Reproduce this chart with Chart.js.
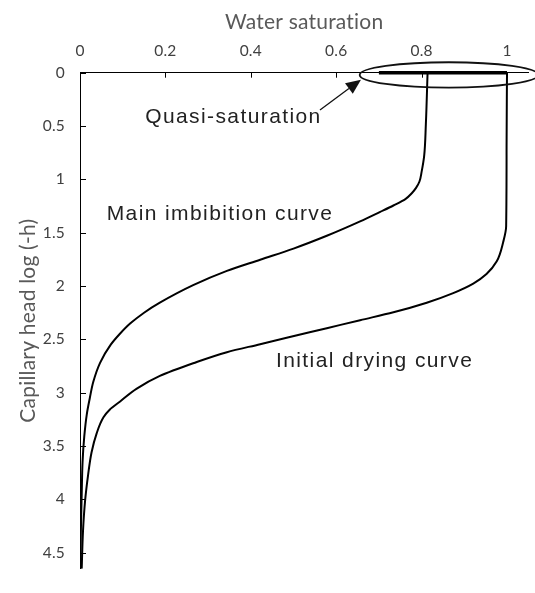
<!DOCTYPE html>
<html><head><meta charset="utf-8">
<script src="https://cdn.jsdelivr.net/npm/chart.js@4/dist/chart.umd.min.js"></script>
<style>html,body{margin:0;padding:0;background:#fff;overflow:hidden}</style>
</head><body>
<canvas id="c" width="535" height="593"></canvas>
<script>
// ---- data ----
const xTickValues = [0, 0.2, 0.4, 0.6, 0.8, 1];
const yTickValues = [0, 0.5, 1, 1.5, 2, 2.5, 3, 3.5, 4, 4.5];

const imbibitionHead = [0, 0.48, 0.78, 0.93, 1.02, 1.08, 1.13, 1.185, 1.245, 1.305, 1.394, 1.529, 1.649, 1.753, 1.858, 1.992, 2.156, 2.25, 2.35, 2.45, 2.55, 2.72, 2.90, 3.05, 3.20, 3.41, 3.65, 3.95, 4.3, 4.65];
const imbibitionSat  = [0.814, 0.810, 0.806, 0.800, 0.795, 0.787, 0.777, 0.762, 0.734, 0.703, 0.656, 0.578, 0.500, 0.422, 0.344, 0.265, 0.187, 0.150, 0.118, 0.093, 0.072, 0.047, 0.031, 0.023, 0.016, 0.010, 0.006, 0.004, 0.002, 0.001];

const dryingHead = [0, 0.7, 1.44, 1.589, 1.768, 1.887, 1.977, 2.066, 2.156, 2.246, 2.32, 2.395, 2.485, 2.545, 2.62, 2.724, 2.843, 2.962, 3.082, 3.157, 3.231, 3.381, 3.56, 3.77, 4.01, 4.3, 4.65];
const dryingSat  = [1.0, 0.999, 0.998, 0.991, 0.976, 0.952, 0.921, 0.874, 0.812, 0.734, 0.656, 0.578, 0.484, 0.422, 0.344, 0.265, 0.187, 0.133, 0.094, 0.070, 0.055, 0.039, 0.027, 0.019, 0.012, 0.007, 0.004];

const quasiSat  = [0.7, 1.0];
const quasiHead = [0, 0];

const labelTexts = ['Quasi-saturation', 'Main imbibition curve', 'Initial drying curve'];
const xTitle = 'Water saturation';
const yTitle = 'Capillary head log (-h)';

const toPts = (xs, ys) => xs.map((x, i) => ({x: x, y: ys[i]}));

const noLigatures = {
  id: 'noLigatures',
  beforeDraw(chart) { chart.ctx.letterSpacing = '0.2px'; }
};

const decor = {
  id: 'decor',
  afterDraw(chart) {
    const ctx = chart.ctx, xs = chart.scales.x, ys = chart.scales.y;
    const X = v => xs.getPixelForValue(v), Y = v => ys.getPixelForValue(v);
    ctx.save();
    // inside tick marks
    ctx.strokeStyle = '#000'; ctx.lineWidth = 1;
    xs.ticks.forEach(t => {
      const px = Math.round(X(t.value)) + 0.5;
      ctx.beginPath(); ctx.moveTo(px, xs.bottom); ctx.lineTo(px, xs.bottom + 5); ctx.stroke();
    });
    ys.ticks.forEach(t => {
      const py = Math.round(Y(t.value)) + 0.5;
      ctx.beginPath(); ctx.moveTo(ys.right, py); ctx.lineTo(ys.right + 6, py); ctx.stroke();
    });
    // ellipse around quasi-saturation
    const cx = X(0.864), cy = Y(0.021);
    const rx = X(0.864 + 0.209) - cx, ry = Y(0.021 + 0.119) - cy;
    ctx.strokeStyle = '#111'; ctx.lineWidth = 1.8;
    ctx.beginPath(); ctx.ellipse(cx, cy, rx, ry, 0, 0, Math.PI * 2); ctx.stroke();
    // arrow
    const tx = X(0.562), ty = Y(0.349), hx = X(0.658), hy = Y(0.065);
    const ang = Math.atan2(hy - ty, hx - tx);
    const hl = 15, hw = 6.5;
    ctx.lineWidth = 1.3; ctx.strokeStyle = '#111'; ctx.fillStyle = '#111';
    ctx.beginPath(); ctx.moveTo(tx, ty);
    ctx.lineTo(hx - Math.cos(ang) * hl, hy - Math.sin(ang) * hl); ctx.stroke();
    ctx.beginPath();
    ctx.moveTo(hx, hy);
    ctx.lineTo(hx - Math.cos(ang) * hl - Math.sin(ang) * hw, hy - Math.sin(ang) * hl + Math.cos(ang) * hw);
    ctx.lineTo(hx - Math.cos(ang) * hl + Math.sin(ang) * hw, hy - Math.sin(ang) * hl - Math.cos(ang) * hw);
    ctx.closePath(); ctx.fill();
    // text labels
    ctx.fillStyle = '#222';
    ctx.font = '21px "Liberation Sans", Arial, sans-serif';
    ctx.letterSpacing = '1.4px';
    ctx.textBaseline = 'alphabetic';
    ctx.textAlign = 'right';
    ctx.fillText(labelTexts[0], X(0.566), Y(0.469));
    ctx.textAlign = 'left';
    ctx.fillText(labelTexts[1], X(0.0625), Y(1.385));
    ctx.fillText(labelTexts[2], X(0.459), Y(2.76));
    ctx.restore();
  }
};

new Chart(document.getElementById('c'), {
  type: 'scatter',
  data: {
    datasets: [
      { data: toPts(imbibitionSat, imbibitionHead), showLine: true, borderColor: '#000', borderWidth: 2, pointRadius: 0, cubicInterpolationMode: 'monotone', indexAxis: 'y' },
      { data: toPts(dryingSat, dryingHead), showLine: true, borderColor: '#000', borderWidth: 2, pointRadius: 0, cubicInterpolationMode: 'monotone', indexAxis: 'y' },
      { data: toPts(quasiSat, quasiHead), showLine: true, borderColor: '#000', borderWidth: 3.5, pointRadius: 0, clip: 6 }
    ]
  },
  options: {
    responsive: false,
    animation: false,
    devicePixelRatio: 1,
    indexAxis: 'y',
    layout: { padding: { left: 0, top: 0, right: 6.65, bottom: 1.4 } },
    plugins: { legend: { display: false }, tooltip: { enabled: false } },
    scales: {
      x: {
        type: 'linear', position: 'top', min: 0, max: 1.05,
        afterBuildTicks: s => { s.ticks = xTickValues.map(v => ({ value: v })); },
        afterFit: s => { s.height = 72.7; },
        grid: { display: false, drawTicks: false },
        border: { display: true, color: '#000', width: 1 },
        ticks: { padding: 12, color: '#404040', font: { family: 'Lato', size: 15.5 }, callback: v => String(v) },
        title: { display: true, text: xTitle, color: '#595959', font: { family: 'Lato', size: 21 }, padding: { top: 10, bottom: 0 } }
      },
      y: {
        type: 'linear', position: 'left', reverse: true, min: 0, max: 4.65,
        afterBuildTicks: s => { s.ticks = yTickValues.map(v => ({ value: v })); },
        afterFit: s => { s.width = 80; },
        grid: { display: false, drawTicks: false },
        border: { display: true, color: '#000', width: 1 },
        ticks: { padding: 15, color: '#404040', font: { family: 'Lato', size: 15.5 }, callback: v => String(v) },
        title: { display: true, text: yTitle, color: '#595959', font: { family: 'Lato', size: 21 }, padding: { top: 15.5, bottom: 0 } }
      }
    }
  },
  plugins: [noLigatures, decor]
});
</script>
</body></html>
